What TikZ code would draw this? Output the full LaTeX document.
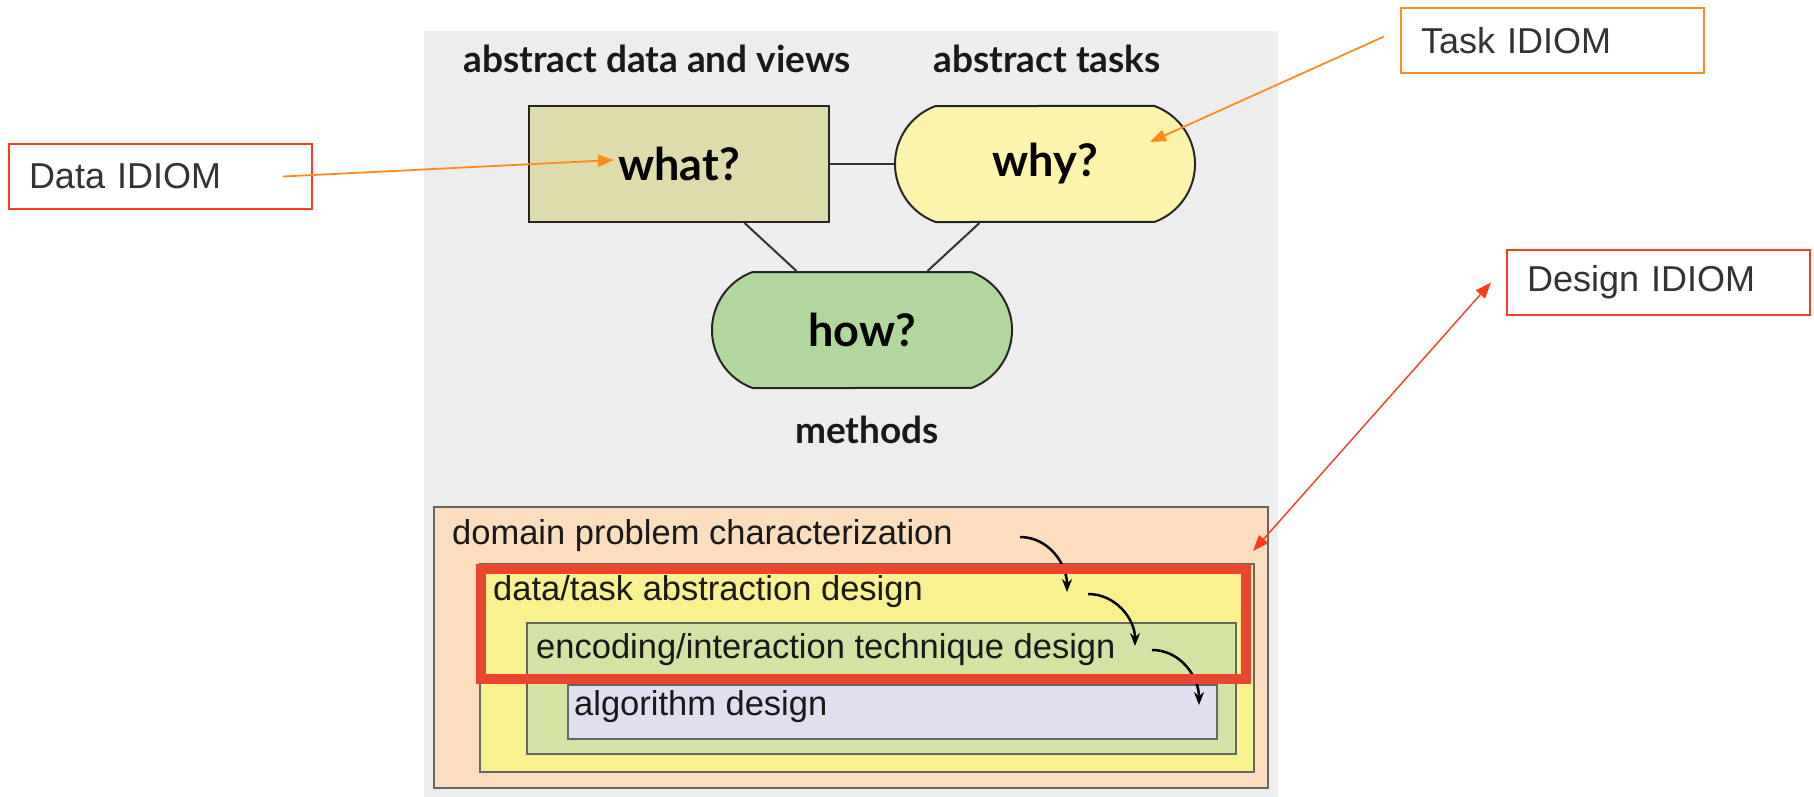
\documentclass[tikz,border=0pt]{standalone}
\usepackage{fontspec}
\setmainfont{Liberation Sans}
\newfontfamily\gillfont{Lato}
\usetikzlibrary{arrows.meta,shapes.misc}

\definecolor{panelgrey}{HTML}{ECEDEC}
\definecolor{whatfill}{HTML}{DFDCAB}
\definecolor{whyfill}{HTML}{FBF4AA}
\definecolor{howfill}{HTML}{B2D79D}
\definecolor{peach}{HTML}{FCDDBD}
\definecolor{abyellow}{HTML}{F8F18D}
\definecolor{encgreen}{HTML}{D2E3A3}
\definecolor{alglav}{HTML}{DFDFF0}
\definecolor{hired}{HTML}{E94530}
\definecolor{calloutred}{HTML}{FF3B1F}
\definecolor{calloutorange}{HTML}{FF8A1E}
\definecolor{inkgrey}{HTML}{333333}
\newcommand{\datacol}{calloutred}
\newcommand{\taskcol}{calloutorange}

\tikzset{
  header/.style={font=\gillfont\bfseries\fontsize{37}{44}\selectfont, text=black!90, inner sep=0pt},
  question/.style={draw=black!85, line width=2pt, minimum width=300pt, minimum height=116pt,
    inner sep=0pt, font=\gillfont\bfseries\fontsize{45}{52}\selectfont},
  pill/.style={question, rounded rectangle, rounded rectangle arc length=140},
  link/.style={draw=black!80, line width=2pt},
  level/.style={draw=black!60, line width=1.5pt},
  leveltext/.style={anchor=base west, inner sep=0pt, font=\fontsize{34.5}{40}\selectfont, text=black!90},
  flow/.style={line width=2.5pt, -{Stealth[length=13pt,width=10pt]}},
  callout/.style={draw=#1, line width=2pt, minimum width=303pt, minimum height=65pt,
    inner xsep=20pt, text width=263pt, align=left, text=inkgrey,
    font=\fontsize{36}{42}\selectfont},
  pointer/.style={draw=#1, line width=1.8pt, -{Triangle[length=16pt,width=12pt]}, fill=#1}
}

\begin{document}
\begin{tikzpicture}[x=1pt, y=-1pt]

    \useasboundingbox (0,0) rectangle (1814,797);
    \fill[panelgrey] (424,31) rectangle (1278,797);

    \node[header, anchor=base] (hdata) at (657,73) {abstract data and views};
    \node[header, anchor=base] (htask) at (1047,73) {abstract tasks};
    \node[header, anchor=base] (hhow) at (867,443) {methods};

    \node[question, fill=whatfill] (what) at (679,164) {what?};
    \node[pill, fill=whyfill] (why) at (1045,164) {why?};
    \node[pill, fill=howfill] (how) at (862,330) {how?};

    \draw[link] (what.east) -- (why.west);
    \draw[link] (what.-42) -- (how.138);
    \draw[link] (why.-138) -- (how.42);

    % nested levels
    \draw[level, fill=peach] (434,507) rectangle (1268,788);
    \draw[level, fill=abyellow] (480,564) rectangle (1254,772);
    \draw[level, fill=encgreen] (527,623) rectangle (1236,754);
    \draw[level, fill=alglav] (568,685) rectangle (1217,739);

    \coordinate (f1a) at (1020,537);
    \coordinate (f1b) at (1067,592);
    \coordinate (f2a) at (1088,594);
    \coordinate (f2b) at (1135,646);
    \coordinate (f3a) at (1152,650);
    \coordinate (f3b) at (1199,705);
    \draw[flow] (f1a) to[out=0, in=90] (f1b);
    \draw[flow] (f2a) to[out=0, in=90] (f2b);
    \draw[flow] (f3a) to[out=0, in=90] (f3b);

    \node[draw=hired, line width=10pt, minimum width=765pt, minimum height=110pt, inner sep=0pt]
      (designbox) at (863.5,624) {};

    \node[leveltext] (domain) at (452,544) {domain problem characterization};
    \node[leveltext] (abstraction) at (493,600) {data/task abstraction design};
    \node[leveltext] (encoding) at (536,658) {encoding/interaction technique design};
    \node[leveltext] (algorithm) at (574,715) {algorithm design};

    % callouts
    \node[callout=\datacol] (dataidiom) at (160.5,176.5) {Data IDIOM};
    \node[callout=\taskcol] (taskidiom) at (1552.5,40.5) {Task IDIOM};
    \node[callout=\datacol] (designidiom) at (1658.5,282.5) {Design IDIOM};

    \draw[pointer=calloutorange] ([xshift=-30pt]dataidiom.east) -- ([shift={(-65,-4)}]what.center);
    \draw[pointer=calloutorange] ([shift={(-16,-4)}]taskidiom.west) -- ([shift={(105,-22)}]why.center);
    \draw[pointer=calloutred, line width=1.4pt, {Triangle[length=16pt,width=12pt]}-{Triangle[length=16pt,width=12pt]}]
      ([shift={(2,-13)}]designbox.north east) -- ([xshift=-15pt]designidiom.west);

\end{tikzpicture}
\end{document}
